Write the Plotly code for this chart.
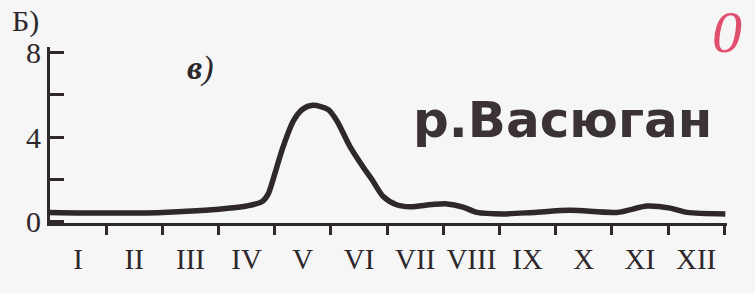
import plotly.graph_objects as go

# Data (month position 0..12, runoff value)
months = [0.0, 1.0, 2.0, 3.0, 3.5, 3.77, 3.88, 3.97, 4.15, 4.33, 4.49, 4.68, 4.95, 5.11,
          5.34, 5.57, 5.73, 5.93, 6.18, 6.41, 6.8, 7.07, 7.35, 7.6, 8.06, 8.6, 9.26,
          10.09, 10.63, 11.04, 11.34, 12.02]
values = [0.45, 0.42, 0.45, 0.6, 0.75, 0.95, 1.3, 2.0, 3.55, 4.75, 5.3, 5.5, 5.3, 4.75,
          3.55, 2.6, 2.0, 1.2, 0.8, 0.72, 0.82, 0.85, 0.7, 0.45, 0.38, 0.45, 0.55,
          0.45, 0.75, 0.65, 0.45, 0.38]
month_labels = ["I", "II", "III", "IV", "V", "VI", "VII", "VIII", "IX", "X", "XI", "XII"]
month_centers = [i + 0.5 for i in range(12)]
y_ticks = [0, 4, 8]
y_minor = [2, 6]

W, H = 755, 293
L, R, T, B = 50, 28, 47, 70
ink = "#2e272b"
bg = "#f5f6f5"


def px(x, y):
    pw = W - L - R
    ph = H - T - B
    return (x - L) / pw, (H - B - y) / ph


fig = go.Figure()
fig.add_trace(go.Scatter(x=months, y=values, mode="lines",
                         line=dict(color=ink, width=5.5, shape="spline", smoothing=0.8),
                         hoverinfo="skip"))

fig.update_layout(
    width=W, height=H,
    margin=dict(l=L, r=R, t=T, b=B, autoexpand=False),
    paper_bgcolor=bg, plot_bgcolor=bg,
    showlegend=False,
    xaxis=dict(range=[0, 12.05], showgrid=False, zeroline=False, automargin=False,
               showline=True, linecolor=ink, linewidth=3,
               tickmode="array", tickvals=month_centers, ticktext=month_labels,
               ticks="", ticklabelstandoff=8,
               tickfont=dict(family="Liberation Serif", size=29, color=ink),
               minor=dict(tickmode="array", tickvals=list(range(1, 13)), ticks="outside",
                          ticklen=9, tickwidth=2.5, tickcolor=ink),
               fixedrange=True),
    yaxis=dict(range=[-0.05, 8.25], showgrid=False, zeroline=False, automargin=False,
               showline=True, linecolor=ink, linewidth=3,
               tickmode="array", tickvals=y_ticks, ticktext=[str(v) for v in y_ticks],
               ticks="inside", ticklen=14, tickwidth=3, tickcolor=ink,
               tickfont=dict(family="Liberation Serif", size=30, color=ink),
               minor=dict(tickmode="array", tickvals=y_minor, ticks="inside",
                          ticklen=14, tickwidth=3, tickcolor=ink),
               fixedrange=True),
)

anns = [
    ("Б)", 25, 21, dict(family="Liberation Serif", size=30, color=ink)),
    ("<b><i>в</i></b><i>)</i>", 200, 68, dict(family="Liberation Serif", size=34, color=ink)),
    ("<b>р.Васюган</b>", 562, 120, dict(family="DejaVu Sans", size=50, color="#3a3237")),
    ("<i>0</i>", 727, 32, dict(family="Liberation Serif", size=60, color="#e0506e")),
]
for text, x, y, font in anns:
    ax, ay = px(x, y)
    fig.add_annotation(text=text, x=ax, y=ay, xref="paper", yref="paper",
                       xanchor="center", yanchor="middle", showarrow=False, font=font)

fig.write_html("out.html",
               config={"displayModeBar": False},
               post_script="document.body.style.margin='0';document.body.style.overflow='hidden';")
